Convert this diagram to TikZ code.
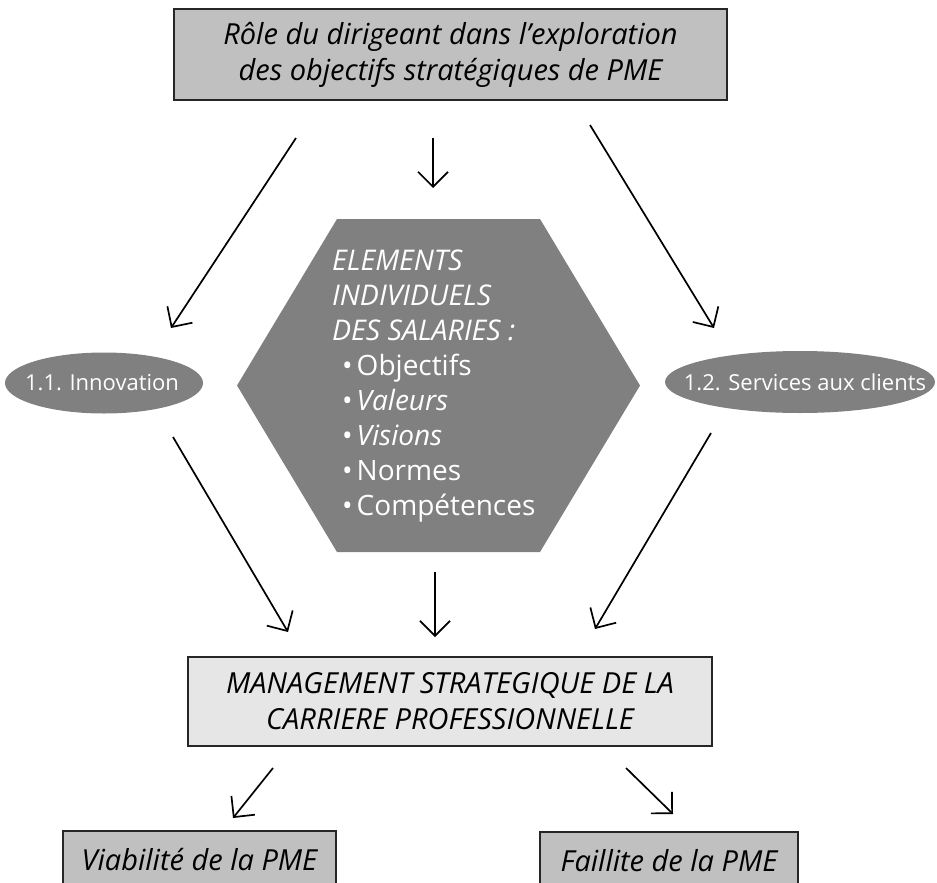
\documentclass[tikz,border=0pt]{standalone}
\usepackage{fontspec}
\setmainfont{Open Sans}
\usetikzlibrary{arrows.meta,shapes.geometric}
\definecolor{boxgray}{HTML}{C0C0C0}
\definecolor{lightbox}{HTML}{E6E6E6}
\definecolor{hexgray}{HTML}{808080}
\definecolor{edgecol}{HTML}{262626}
\begin{document}
\begin{tikzpicture}[x=1pt,y=-1pt,
  arr/.style={line width=1.7pt,-{Straight Barb[length=15pt,width=30pt,line width=1.7pt]}},
  boxbase/.style={rectangle,draw=edgecol,line width=2.4pt,inner sep=0pt,align=center},
  darkbox/.style={boxbase,fill=boxgray},
  lightbx/.style={boxbase,fill=lightbox},
  bigfont/.style={font={\fontsize{29}{36}\selectfont\itshape}},
  oval/.style={ellipse,fill=hexgray,inner sep=0pt},
  ovaltxt/.style={inner sep=0pt,text=white,font={\fontsize{22}{26}\selectfont}},
  hextxt/.style={anchor=base west,inner sep=0pt,text=white,font={\fontsize{28}{35}\selectfont}},
  hexhead/.style={hextxt,font={\fontsize{28.5}{35}\selectfont\itshape}}
]
\useasboundingbox (0,0) rectangle (937,883);
\clip (0,0) rectangle (937,883);

% top box
\node[darkbox,bigfont,minimum width=553pt,minimum height=91pt] (top) at (450.5,54.5)
  {Rôle du dirigeant dans l’exploration\\des objectifs stratégiques de PME};

% hexagon
\coordinate (hx1) at (337,219);
\coordinate (hx2) at (540,219);
\coordinate (hx3) at (640,385.5);
\coordinate (hx4) at (540,552);
\coordinate (hx5) at (337,552);
\coordinate (hx6) at (237,385.5);
\fill[hexgray] (hx1) -- (hx2) -- (hx3) -- (hx4) -- (hx5) -- (hx6) -- cycle;
\node[hexhead] (t1) at (332,270) {ELEMENTS};
\node[hexhead] (t2) at (332,305) {INDIVIDUELS};
\node[hexhead] (t3) at (332,340) {DES SALARIES :};
\node[hextxt] (t4) at (342,375) {•\hspace{4pt}Objectifs};
\node[hextxt] (t5) at (342,410) {•\hspace{4pt}\itshape Valeurs};
\node[hextxt] (t6) at (342,445) {•\hspace{4pt}\itshape Visions};
\node[hextxt] (t7) at (342,480) {•\hspace{4pt}Normes};
\node[hextxt] (t8) at (342,515) {•\hspace{4pt}Compétences};

% ellipses
\node[oval,minimum width=198pt,minimum height=61pt] (inno) at (104,383) {};
\node[ovaltxt] (innot) at (102,383) {1.1. Innovation};
\node[oval,minimum width=270pt,minimum height=62pt] (serv) at (800,382) {};
\node[ovaltxt] (servt) at (805,382) {1.2. Services aux clients};

% management box
\node[lightbx,bigfont,minimum width=524pt,minimum height=89pt] (mgmt) at (450,701.5)
  {MANAGEMENT STRATEGIQUE DE LA\\CARRIERE PROFESSIONNELLE};

% bottom boxes
\node[darkbox,bigfont,minimum width=273pt,minimum height=58pt] (viab) at (199.5,860) {Viabilité de la PME};
\node[darkbox,bigfont,minimum width=258pt,minimum height=57pt] (fail) at (669,860.5) {Faillite de la PME};

% connector end points
\coordinate (a1s) at (296,138); \coordinate (a1e) at (171,328);
\coordinate (a2s) at (433,138); \coordinate (a2e) at (433,188);
\coordinate (a3s) at (590,125); \coordinate (a3e) at (714,328);
\coordinate (a4s) at (173,437); \coordinate (a4e) at (288,632);
\coordinate (a5s) at (435,572); \coordinate (a5e) at (435,637);
\coordinate (a6s) at (711,433); \coordinate (a6e) at (595,629);
\coordinate (a7s) at (273,768); \coordinate (a7e) at (233,818);
\coordinate (a8s) at (626,768); \coordinate (a8e) at (673,814);

\draw[arr] (a1s) -- (a1e);
\draw[arr] (a2s) -- (a2e);
\draw[arr] (a3s) -- (a3e);
\draw[arr] (a4s) -- (a4e);
\draw[arr] (a5s) -- (a5e);
\draw[arr] (a6s) -- (a6e);
\draw[arr] (a7s) -- (a7e);
\draw[arr] (a8s) -- (a8e);
\end{tikzpicture}
\end{document}
